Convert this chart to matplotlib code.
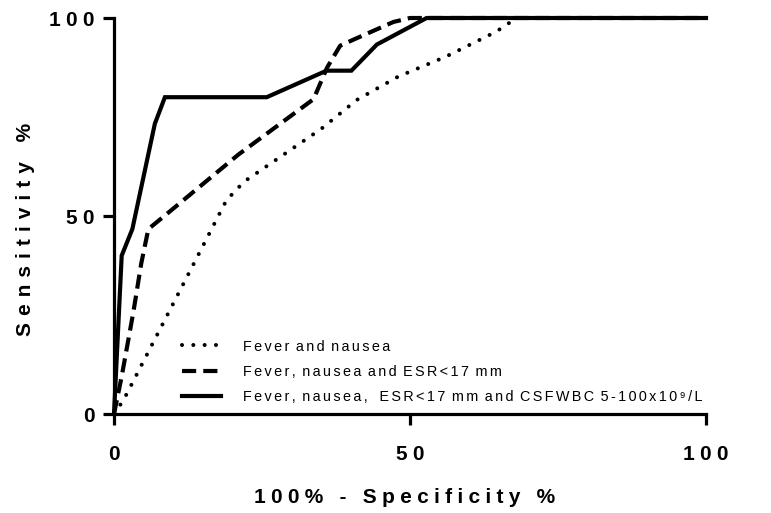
import matplotlib
matplotlib.use("Agg")
import matplotlib.pyplot as plt

plt.rcParams['font.family'] = ['Liberation Sans', 'DejaVu Sans']

# ---- data ----
fn_x = [0, 1.6, 19, 22, 35, 41, 48, 56, 64.5, 68, 100]
fn_y = [0, 3.5, 54, 58.7, 72, 79.3, 85.2, 90.2, 96.5, 100, 100]

fne_x = [0, 1.3, 3.3, 4.6, 5.8, 8.5, 21, 33.7, 36, 38.2, 40.4, 47.2, 50, 100]
fne_y = [0, 9.5, 26, 38, 46.7, 50, 65.5, 79.5, 87.5, 93, 94.5, 99, 100, 100]

fnec_x = [0, 1.3, 3.1, 6.9, 8.6, 25.8, 35.9, 40.1, 44.4, 52.8, 100]
fnec_y = [0, 40, 46.7, 73.3, 80, 80, 86.7, 86.7, 93.3, 100, 100]

labels = ["Fever and nausea",
          "Fever, nausea and ESR<17 mm",
          "Fever, nausea,  ESR<17 mm and CSFWBC 5-100x10\u2079/L"]
xticks = [0, 50, 100]
yticks = [0, 50, 100]
xlabel = "100% - Specificity %"
ylabel = "Sensitivity %"


def spaced(s, sp='\u2005', sp_word=None):
    if sp_word is None:
        sp_word = sp
    out = s[0]
    for a, b in zip(s[:-1], s[1:]):
        if a == ' ' or b == ' ':
            out += sp_word + b
        else:
            out += sp + b
    return out


fig = plt.figure(figsize=(7.71, 5.13), dpi=100)
ax = fig.add_axes([114 / 771, 1 - 414 / 513, 592 / 771, 396 / 513])

l1, = ax.plot(fn_x, fn_y, color='black', lw=2.9, linestyle=(0, (0.01, 2.8)),
              dash_capstyle='round', clip_on=False, zorder=2)
l2, = ax.plot(fne_x, fne_y, color='black', lw=3.0, linestyle=(0, (3.4, 1.7)),
              clip_on=False, zorder=3)
l3, = ax.plot(fnec_x, fnec_y, color='black', lw=3.0, linestyle='-',
              solid_joinstyle='miter', clip_on=False, zorder=4)

ax.set_xlim(0, 100)
ax.set_ylim(0, 100)
for s in ['top', 'right']:
    ax.spines[s].set_visible(False)
for s in ['left', 'bottom']:
    ax.spines[s].set_linewidth(2.3)

ax.set_xticks(xticks)
ax.set_yticks(yticks)
ax.set_xticklabels([spaced(str(t)) for t in xticks])
ax.set_yticklabels([spaced(str(t)) for t in yticks])
ax.tick_params(axis='both', direction='out', length=8, width=2.3,
               labelsize=15, color='black')
for lab in ax.get_xticklabels() + ax.get_yticklabels():
    lab.set_fontweight('bold')
ax.tick_params(axis='x', pad=14)
ax.tick_params(axis='y', pad=6)

ax.set_xlabel(spaced(xlabel, '\u2005'), fontsize=15, fontweight='bold')
ax.set_ylabel(spaced(ylabel, '\u2004'), fontsize=15, fontweight='bold')
ax.xaxis.set_label_coords(0.4916, -0.2096)
ax.yaxis.set_label_coords(-0.150, 0.467)
ax.xaxis.label.set_va('center')
ax.yaxis.label.set_va('center')

leg = ax.legend([l1, l2, l3],
                [spaced(t, '\u2006', '\u200a') for t in labels],
                loc='upper left', bbox_to_anchor=(0.115, 0.188),
                frameon=False, fontsize=10.4, handlelength=2.7,
                handletextpad=1.55, labelspacing=0.78, borderpad=0,
                borderaxespad=0)

fig.savefig('out.png', dpi=100)
